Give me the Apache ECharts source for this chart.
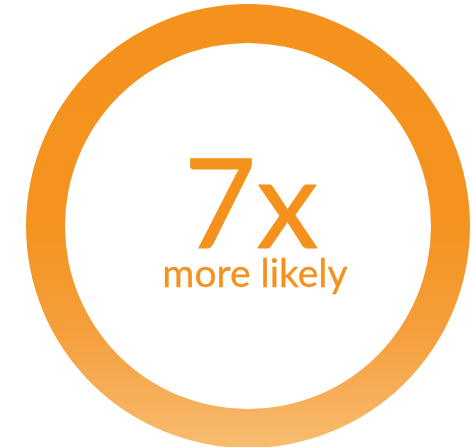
<!DOCTYPE html>
<html>
<head>
<meta charset="utf-8">
<script src="https://cdn.jsdelivr.net/npm/echarts@6/dist/echarts.min.js"></script>
<style>
  html, body { margin: 0; padding: 0; background: #fff; }
  #chart { width: 472px; height: 447px; }
</style>
</head>
<body>
<div id="chart"></div>
<script>
// data
const ringNames = ['likelihood'];
const ringValues = [7];
const headline = ['7x'];
const subline = ['more likely'];

const chart = echarts.init(document.getElementById('chart'), null, { renderer: 'canvas' });

const ringGradient = new echarts.graphic.LinearGradient(0, 0, 0, 1, [
  { offset: 0, color: '#F5921E' },
  { offset: 0.5, color: '#F4931F' },
  { offset: 0.75, color: '#F5A03E' },
  { offset: 1, color: '#F8BC70' },
]);

chart.setOption({
  animation: false,
  series: [
    {
      type: 'pie',
      center: [248, 226],
      radius: [183, 222],
      silent: true,
      label: { show: false },
      labelLine: { show: false },
      itemStyle: { color: ringGradient },
      data: ringNames.map((n, i) => ({ name: n, value: ringValues[i] })),
    },
  ],
  graphic: [
    {
      type: 'text',
      x: 251,
      y: 208,
      style: {
        text: headline[0],
        font: 'normal 125px Lato',
        fill: '#F5921E',
        stroke: '#F5921E',
        lineWidth: 0.8,
        align: 'center',
        verticalAlign: 'middle',
      },
    },
    {
      type: 'text',
      x: 255,
      y: 274,
      style: {
        text: subline[0],
        font: 'normal 39px Lato',
        fill: '#F5921E',
        stroke: '#F5921E',
        lineWidth: 0.3,
        align: 'center',
        verticalAlign: 'middle',
      },
    },
  ],
});
</script>
</body>
</html>
